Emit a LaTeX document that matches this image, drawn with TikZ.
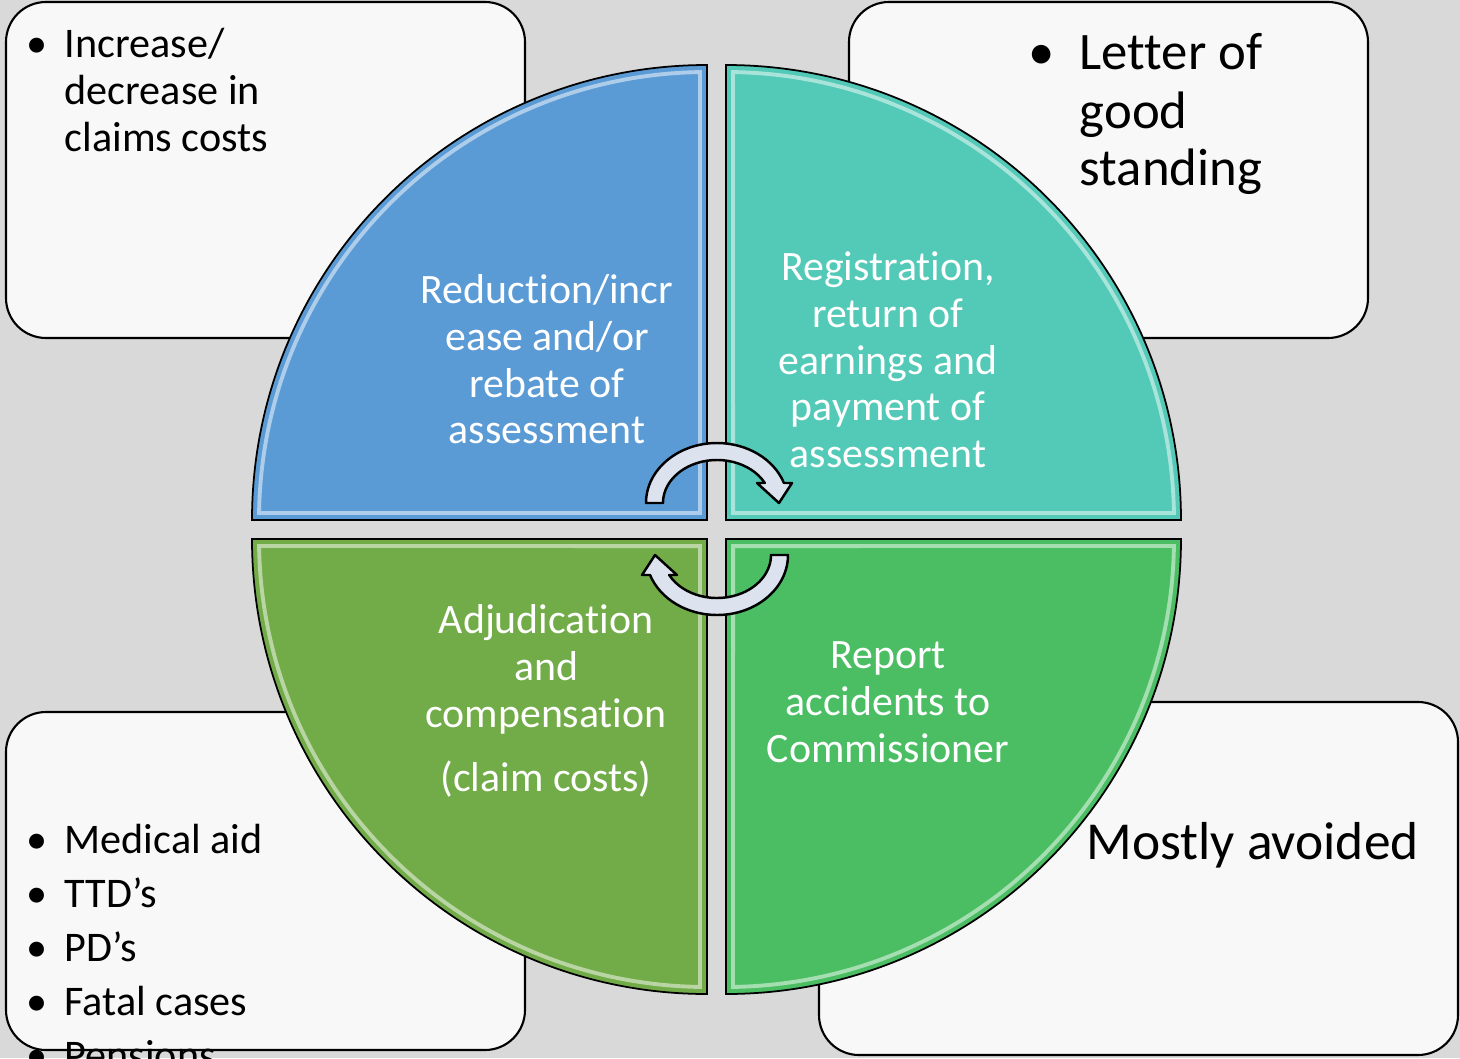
\documentclass[tikz,border=0pt]{standalone}
\usepackage{fontspec}
\setmainfont{Carlito}[Ligatures={NoCommon}]
\usepackage{tikz}
\usetikzlibrary{calc}
\definecolor{fond}{HTML}{D9D9D9}
\definecolor{papier}{HTML}{F8F8F8}
\definecolor{qbleu}{HTML}{5B9BD5}
\definecolor{qturq}{HTML}{53C9B7}
\definecolor{qvertg}{HTML}{72AC48}
\definecolor{qvertd}{HTML}{4BBE64}
\definecolor{pale}{HTML}{DCE3EE}
\tikzset{boite/.style={
    draw=black, line width=0.6pt, fill=papier,
    rounded corners=0.4cm}}
\tikzset{quart/.style={
    draw=black, line width=0.5pt}}
\tikzset{reflet/.style={
    draw=white, draw opacity=0.5, line width=1.1pt}}
\tikzset{fleche/.style={
    draw=black, line width=0.7pt, fill=pale, line join=round}}
\tikzset{texteq/.style={
    text=white, align=center, inner sep=0,
    font=\fontsize{11.9}{13.3}\selectfont}}
\tikzset{puce/.style={
    anchor=base, inner sep=0}}
\tikzset{ligne/.style={
    anchor=base west, inner sep=0}}

\begin{document}
\begin{tikzpicture}
  % fond
\useasboundingbox (0,0) rectangle (14.6,10.58);
\fill[fond] (0,0) rectangle (14.6,10.58);

  % cadres
\draw[boite] (0.06,7.20) rectangle (5.25,10.56);
\draw[boite] (8.49,7.20) rectangle (13.68,10.56);
\draw[boite] (0.06,0.08) rectangle (5.25,3.46);
\draw[boite] (8.19,0.03) rectangle (14.58,3.56);

  % cercle en quatre quarts
  \coordinate (C) at (7.165,5.285);
  \foreach \a/\dx/\dy/\coul/\nom in {90/-1/1/qbleu/qa, 0/1/1/qturq/qb,
      270/1/-1/qvertd/qd, 180/-1/-1/qvertg/qc} {
    \pgfmathsetmacro{\b}{\a+90}
    \pgfmathsetmacro{\sa}{\a+0.9}
    \pgfmathsetmacro{\ea}{\b-0.9}
    \coordinate (\nom) at ($(C)+(\dx*0.095,\dy*0.095)$);
    \filldraw[quart, fill=\coul] (\nom) -- ++(\a:4.55)
      arc[start angle=\a, end angle=\b, radius=4.55] -- cycle;
    \draw[reflet] ($(\nom)+(\a+45:0.1)$) -- ($(\nom)+(\sa:4.48)$)
      arc[start angle=\sa, end angle=\ea, radius=4.48] -- cycle;
  }

\node[texteq] (ta) at (5.47,6.985) {Reduction/incr\\ease and/or\\rebate of\\assessment};
\node[texteq] (tb) at (8.88,6.98) {Registration,\\return of\\earnings and\\payment of\\assessment};
\node[texteq] (tc) at (5.46,3.57) {Adjudication\\and\\compensation\\[5pt](claim costs)};
\node[texteq] (td) at (8.88,3.56) {Report\\accidents to\\Commissioner};

  % flèches circulaires
\filldraw[fleche] (6.63,5.55) -- (6.46,5.55)
  arc[start angle=180, end angle=19.47, x radius=0.71, y radius=0.60]
  -- (7.92,5.75) -- (7.79,5.55) -- (7.57,5.75) -- (7.648,5.75)
  arc[start angle=27.7, end angle=180, x radius=0.54, y radius=0.43] -- cycle;
\begin{scope}[rotate around={180:(7.17,5.29)}]
  \filldraw[fleche] (6.63,5.55) -- (6.46,5.55)
    arc[start angle=180, end angle=19.47, x radius=0.71, y radius=0.60]
    -- (7.92,5.75) -- (7.79,5.55) -- (7.57,5.75) -- (7.648,5.75)
    arc[start angle=27.7, end angle=180, x radius=0.54, y radius=0.43] -- cycle;
\end{scope}

  % textes des cadres
\begin{scope}[font=\fontsize{12}{13.4}\selectfont]
  \node[puce] (p1) at (0.375,10.01) {•};
  \foreach \t/\y [count=\i] in {{Increase/}/10.01, {decrease in}/9.54, {claims costs}/9.07}
    \node[ligne] (hg\i) at (0.64,\y) {\t};
  \foreach \t [count=\i] in {Medical aid, TTD’s, PD’s, Fatal cases, Pensions} {
    \node[puce] (q\i) at (0.375,{2.05-0.54*(\i-1)}) {•};
    \node[ligne] (bg\i) at (0.64,{2.05-0.54*(\i-1)}) {\t};
  }
\end{scope}
\begin{scope}[font=\fontsize{15}{16.6}\selectfont]
  \node[puce] (p2) at (10.42,9.89) {•};
  \foreach \t/\y [count=\i] in {Letter of/9.89, good/9.30, standing/8.73}
    \node[ligne] (hd\i) at (10.79,\y) {\t};
\end{scope}
\node[ligne, font=\fontsize{15.2}{17}\selectfont] (bd) at (10.86,1.99) {Mostly avoided};
\end{tikzpicture}
\end{document}
